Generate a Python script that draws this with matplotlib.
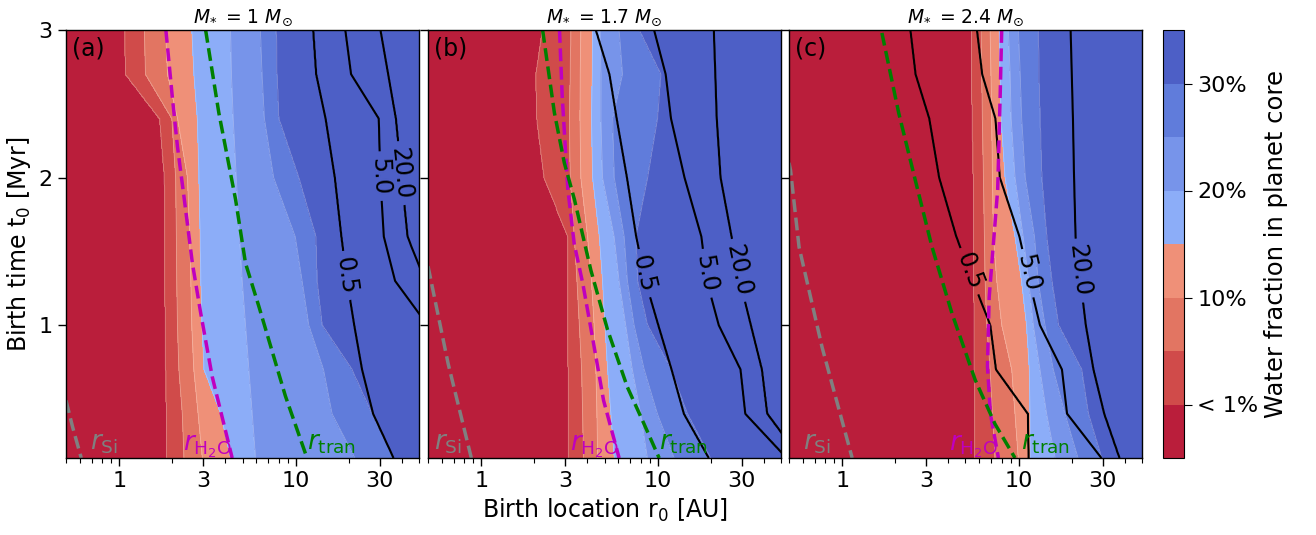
import numpy as np
import matplotlib
matplotlib.use("Agg")
import matplotlib.pyplot as plt
from matplotlib.ticker import LogLocator, NullFormatter, FixedLocator

# ---------------------------------------------------------------------------
# Birth times (Myr) at which the contour boundaries are tabulated
t_rows = [3.0, 2.7, 2.4, 2.0, 1.6, 1.3, 1.0, 0.7, 0.4, 0.1]

# Water-fraction levels separating the colour bands
water_levels = [0.01, 0.05, 0.10, 0.15, 0.20, 0.25, 0.30]
band_colors = ["#BA1E3B", "#D04B4A", "#E27562", "#EF9078",
               "#8CADF8", "#7794EA", "#607CDB", "#4D5FC6"]
cbar_ticks = [0.01, 0.10, 0.20, 0.30]
cbar_ticklabels = ["< 1%", "10%", "20%", "30%"]

# Planet-mass contour levels (black lines)
mass_levels = [0.5, 5.0, 20.0]

# Stellar masses of the three panels
star_masses = ["1", "1.7", "2.4"]
panel_tags = ["(a)", "(b)", "(c)"]

# Birth location r0 (AU) where the water fraction reaches each level,
# one list per level, one entry per t_rows value
water_a = [
    [1.08, 1.09, 1.70, 1.81, 1.82, 1.82, 1.83, 1.84, 1.86, 1.87],
    [1.39, 1.41, 1.99, 2.09, 2.11, 2.12, 2.14, 2.18, 2.28, 2.33],
    [1.83, 1.88, 2.14, 2.44, 2.51, 2.55, 2.58, 2.65, 2.80, 2.96],
    [2.58, 2.65, 2.77, 2.83, 2.87, 2.90, 2.94, 3.02, 3.76, 4.28],
    [4.28, 4.33, 4.43, 4.61, 4.81, 4.98, 5.20, 5.43, 5.67, 5.92],
    [6.32, 6.46, 6.66, 7.51, 9.96, 10.9, 11.9, 14.4, 16.1, 21.7],
    [7.75, 7.82, 8.02, 10.4, 13.0, 13.2, 14.1, 20.8, 27.0, 35.8],
]
water_b = [
    [2.23, 2.05, 2.07, 2.28, 3.10, 3.10, 3.10, 3.12, 3.12, 3.13],
    [3.23, 3.20, 3.17, 3.20, 3.37, 3.49, 3.60, 3.71, 3.76, 3.80],
    [3.67, 3.64, 3.63, 3.67, 4.01, 4.22, 4.37, 4.47, 4.53, 4.57],
    [4.28, 4.26, 4.22, 4.28, 4.67, 4.87, 5.02, 5.20, 5.43, 5.67],
    [4.71, 4.77, 4.77, 4.87, 5.67, 6.05, 6.60, 7.19, 8.02, 8.75],
    [6.05, 6.32, 5.55, 5.67, 6.46, 6.74, 7.35, 8.38, 9.96, 12.4],
    [7.85, 10.4, 9.96, 8.75, 7.51, 7.68, 8.75, 11.9, 14.7, 19.9],
]
water_c = [
    [5.43, 5.43, 5.47, 5.55, 5.55, 5.58, 5.60, 5.63, 5.65, 5.67],
    [6.13, 6.18, 6.23, 6.32, 6.40, 6.46, 6.60, 6.89, 7.10, 7.35],
    [6.89, 6.97, 7.04, 7.10, 7.19, 7.51, 8.02, 9.14, 9.54, 9.96],
    [7.75, 7.85, 7.95, 8.38, 9.54, 10.4, 11.1, 11.5, 11.6, 11.6],
    [8.75, 8.95, 9.07, 9.54, 10.6, 11.4, 12.1, 13.2, 14.4, 16.1],
    [9.96, 10.2, 10.4, 10.9, 12.3, 12.9, 14.1, 15.7, 18.3, 21.7],
    [12.9, 13.0, 13.2, 13.5, 14.4, 15.4, 16.8, 22.7, 24.8, 29.5],
]

# Birth location r0 (AU) of the 0.5, 5 and 20 planet-mass contours
mass_a = [
    [12.6, 13.1, 14.8, 16.7, 18.2, 19.6, 21.5, 23.8, 27.5, 35.9],
    [19.1, 20.6, 29.6, 30.2, 31.6, 36.6, 56.0, 73.0, 91.0, 113.0],
    [30.2, 33.4, 36.9, 39.8, 43.0, 54.0, 73.0, 99.0, 129.0, 160.0],
]
mass_b = [
    [4.47, 5.34, 5.87, 6.71, 7.57, 8.53, 10.1, 12.0, 14.1, 19.5],
    [9.54, 11.1, 11.9, 14.2, 17.7, 19.0, 22.2, 29.5, 31.4, 54.0],
    [20.8, 21.2, 21.6, 22.7, 26.2, 29.2, 33.7, 38.9, 41.7, 64.0],
]
mass_c = [
    [2.44, 2.61, 3.12, 3.55, 4.44, 5.52, 6.92, 7.45, 11.3, 11.4],
    [5.80, 6.21, 7.38, 7.82, 10.1, 11.5, 13.2, 17.6, 18.8, 29.5],
    [19.7, 20.0, 20.3, 20.6, 21.0, 22.4, 24.0, 26.5, 30.5, 37.2],
]

# Where the contour labels sit (r0 [AU], t0 [Myr])
mass_label_pos_a = [(19.9, 1.34), (30.2, 2.01), (39.0, 2.03)]
mass_label_pos_b = [(8.2, 1.35), (18.7, 1.35), (28.2, 1.37)]
mass_label_pos_c = [(4.87, 1.35), (11.1, 1.35), (22.2, 1.37)]

# Condensation / transition lines: r (AU) against t (Myr)
si_a_r, si_a_t = [0.50, 0.545, 0.61], [0.49, 0.31, 0.10]
h2o_a_r = [1.84, 2.00, 2.14, 2.33, 2.60, 2.90, 3.37, 4.37]
h2o_a_t = [3.00, 2.55, 2.21, 1.87, 1.42, 1.08, 0.65, 0.10]
tran_a_r = [3.09, 3.67, 4.57, 5.20, 6.18, 8.75, 11.6]
tran_a_t = [3.00, 2.44, 1.85, 1.42, 1.13, 0.52, 0.10]

si_b_r, si_b_t = [0.50, 0.65, 0.88], [1.40, 0.74, 0.10]
h2o_b_r = [2.78, 2.88, 3.10, 3.37, 3.77, 4.30, 4.94, 6.05]
h2o_b_t = [3.00, 2.55, 1.92, 1.55, 1.28, 0.90, 0.49, 0.10]
tran_b_r = [2.23, 2.60, 2.96, 3.38, 4.19, 5.20, 6.74, 8.38, 10.2]
tran_b_t = [3.00, 2.44, 2.10, 1.85, 1.37, 0.97, 0.58, 0.33, 0.10]

si_c_r = [0.50, 0.51, 0.57, 0.77, 1.14]
si_c_t = [2.10, 2.05, 1.53, 0.85, 0.10]
h2o_c_r = [8.02, 7.85, 7.61, 6.81, 6.66, 6.92, 7.68]
h2o_c_t = [3.00, 2.53, 1.92, 1.19, 0.72, 0.40, 0.10]
tran_c_r = [1.68, 2.09, 2.60, 3.23, 4.19, 5.67, 7.35, 9.54]
tran_c_t = [2.98, 2.44, 1.98, 1.53, 1.08, 0.63, 0.33, 0.10]

# Line-name labels: (r position, horizontal alignment)
line_labels_a = [(0.68, "left"), (4.37, "right"), (11.6, "left")]
line_labels_b = [(0.54, "left"), (6.05, "right"), (10.2, "left")]
line_labels_c = [(0.60, "left"), (7.68, "right"), (10.3, "left")]

# ---------------------------------------------------------------------------
XMIN, XMAX = 0.5, 50.0
YMIN, YMAX = 0.1, 3.0


def field_from_boundaries(r_grid, t_grid, bounds, levels, lo, hi):
    """Scalar field that rises through `levels` at the tabulated radii.

    Boundary radii are joined by straight (log r) segments between the
    tabulated birth times, then the value is ramped between boundaries.
    """
    t_tab = np.asarray(t_rows, float)
    order = np.argsort(t_tab)
    b = np.log10(np.asarray(bounds, float))[:, order]
    b_fine = np.array([np.interp(t_grid, t_tab[order], row) for row in b])
    x = np.log10(r_grid)
    out = np.empty((t_grid.size, x.size))
    fp = np.concatenate([[lo], levels, [hi]])
    for j in range(t_grid.size):
        xp = np.concatenate([[b_fine[0, j] - 3.0], b_fine[:, j],
                             [b_fine[-1, j] + 3.0]])
        out[j] = np.interp(x, xp, fp)
    return out


plt.rcParams["font.family"] = ["DejaVu Sans"]
plt.rcParams["mathtext.fontset"] = "dejavusans"

fig = plt.figure(figsize=(13.16, 5.35), dpi=100)
W, H = 1316.0, 535.0
ax_lefts = [66, 428, 789]
axes = [fig.add_axes([l / W, 1 - 458 / H, 353 / W, 428 / H]) for l in ax_lefts]
cax = fig.add_axes([1163 / W, 1 - 458 / H, 21 / W, 428 / H])

r_grid = np.geomspace(0.3, 80.0, 700)
t_grid = np.linspace(YMIN, YMAX, 291)
band_edges = [-0.01] + water_levels + [0.4]

panels = [
    (water_a, mass_a, mass_label_pos_a,
     (si_a_r, si_a_t), (h2o_a_r, h2o_a_t), (tran_a_r, tran_a_t), line_labels_a),
    (water_b, mass_b, mass_label_pos_b,
     (si_b_r, si_b_t), (h2o_b_r, h2o_b_t), (tran_b_r, tran_b_t), line_labels_b),
    (water_c, mass_c, mass_label_pos_c,
     (si_c_r, si_c_t), (h2o_c_r, h2o_c_t), (tran_c_r, tran_c_t), line_labels_c),
]

line_colors = ["gray", "m", "g"]
line_names = [r"$r_{\rm Si}$", r"$r_{\rm H_2O}$", r"$r_{\rm tran}$"]

cf_handle = None
for i, (ax, p) in enumerate(zip(axes, panels)):
    water, mass, lab_pos, si, h2o, tran, names_pos = p
    ax.set_xscale("log")
    ax.set_xlim(XMIN, XMAX)
    ax.set_ylim(YMIN, YMAX)

    Zw = field_from_boundaries(r_grid, t_grid, water, water_levels, 0.0, 0.35)
    cf = ax.contourf(r_grid, t_grid, Zw, levels=band_edges, colors=band_colors)
    ax.contour(r_grid, t_grid, Zw, levels=water_levels, colors="white",
               linewidths=0.6, alpha=0.3)
    if cf_handle is None:
        cf_handle = cf

    Zm = field_from_boundaries(r_grid, t_grid, mass, np.log10(mass_levels),
                               np.log10(0.5) - 3, np.log10(20.0) + 3)
    cs = ax.contour(r_grid, t_grid, 10 ** Zm, levels=mass_levels,
                    colors="k", linewidths=1.5)
    ax.clabel(cs, fmt="%.1f", fontsize=17, inline=True, inline_spacing=6,
              manual=lab_pos)

    for (lr, lt), col in zip((si, h2o, tran), line_colors):
        ax.plot(lr, lt, ls="--", color=col, lw=2.5)

    for (xpos, ha), col, name in zip(names_pos, line_colors, line_names):
        ax.text(xpos, 0.155, name, color=col, fontsize=19, ha=ha,
                va="baseline")

    ax.text(0.018, 0.985, panel_tags[i], transform=ax.transAxes,
            fontsize=17, ha="left", va="top")
    ax.set_title(r"$M_{*}\,$ = " + star_masses[i] + r" $M_{\odot}$",
                 fontsize=13.5, pad=5)

    ax.xaxis.set_major_locator(FixedLocator([1, 3, 10, 30]))
    ax.set_xticklabels(["1", "3", "10", "30"])
    ax.xaxis.set_minor_locator(LogLocator(base=10, subs=np.arange(2, 10)))
    ax.xaxis.set_minor_formatter(NullFormatter())
    ax.set_yticks([1, 2, 3])
    ax.tick_params(which="major", length=6, width=1, labelsize=16)
    ax.tick_params(which="minor", length=3.5, width=0.8)
    if i > 0:
        ax.set_yticklabels([])
    for sp in ax.spines.values():
        sp.set_linewidth(1.0)

axes[0].set_ylabel(r"Birth time t$_0$ [Myr]", fontsize=17)
axes[1].set_xlabel(r"Birth location r$_0$ [AU]", fontsize=17)

cb = fig.colorbar(cf_handle, cax=cax)
cb.set_ticks(cbar_ticks)
cb.set_ticklabels(cbar_ticklabels)
cb.ax.tick_params(labelsize=16, length=6)
cb.set_label("Water fraction in planet core", fontsize=17.5)

fig.savefig("out.png", dpi=100)
